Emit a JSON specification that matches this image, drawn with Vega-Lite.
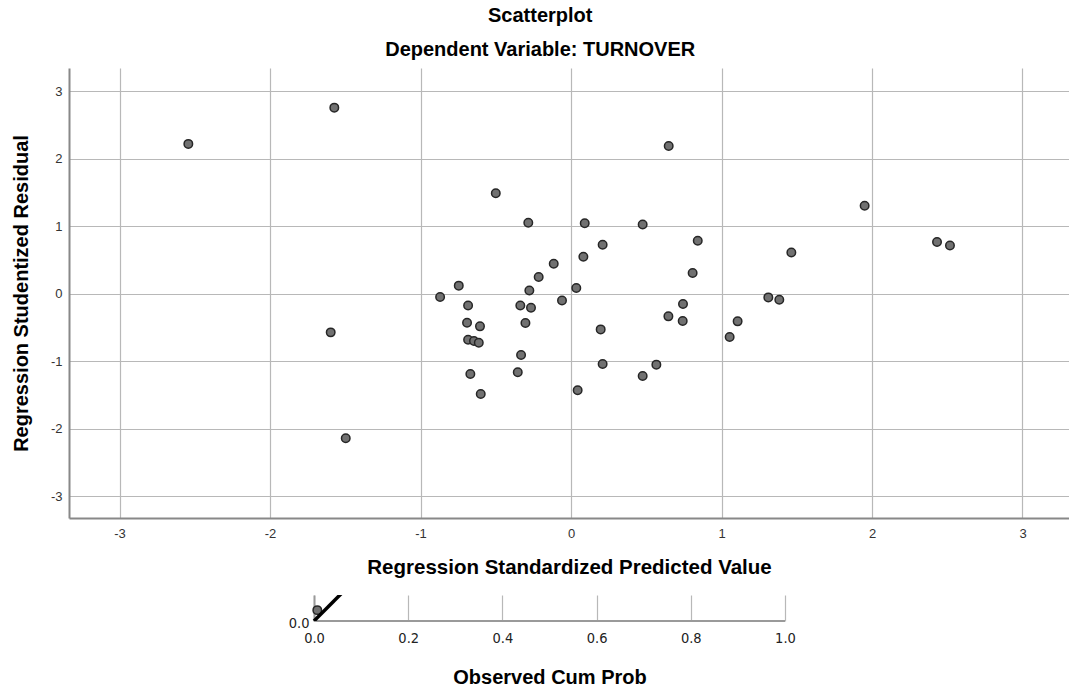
{
  "$schema": "https://vega.github.io/schema/vega-lite/v6.json",
  "padding": {"left": 11, "top": 6, "right": 0, "bottom": 0},
  "background": "white",
  "title": {
    "text": "Scatterplot",
    "subtitle": "Dependent Variable: TURNOVER",
    "anchor": "middle",
    "font": "Liberation Sans",
    "fontSize": 20,
    "fontWeight": "bold",
    "color": "black",
    "subtitleFont": "Liberation Sans",
    "subtitleFontSize": 20,
    "subtitleFontWeight": "bold",
    "subtitleColor": "black",
    "subtitlePadding": 14,
    "offset": 8
  },
  "spacing": 77,
  "bounds": "flush",
  "vconcat": [
    {
      "width": 1000,
      "height": 450,
      "data": {
        "values": [
          {"pred": -2.543, "resid": 2.219},
          {"pred": -1.573, "resid": 2.756},
          {"pred": -0.870, "resid": -0.049},
          {"pred": -0.746, "resid": 0.120},
          {"pred": 0.649, "resid": 2.189},
          {"pred": -0.500, "resid": 1.489},
          {"pred": -0.284, "resid": 1.050},
          {"pred": 0.091, "resid": 1.045},
          {"pred": 0.476, "resid": 1.026},
          {"pred": 0.842, "resid": 0.784},
          {"pred": 0.210, "resid": 0.725},
          {"pred": 1.464, "resid": 0.611},
          {"pred": 0.082, "resid": 0.547},
          {"pred": -0.115, "resid": 0.444},
          {"pred": 0.808, "resid": 0.306},
          {"pred": -0.215, "resid": 0.247},
          {"pred": 0.035, "resid": 0.086},
          {"pred": -0.277, "resid": 0.049},
          {"pred": -0.060, "resid": -0.100},
          {"pred": 1.311, "resid": -0.054},
          {"pred": 1.384, "resid": -0.089},
          {"pred": 1.951, "resid": 1.302},
          {"pred": 2.432, "resid": 0.765},
          {"pred": 2.518, "resid": 0.715},
          {"pred": -1.597, "resid": -0.572},
          {"pred": -1.497, "resid": -2.140},
          {"pred": -0.684, "resid": -0.173},
          {"pred": -0.337, "resid": -0.173},
          {"pred": -0.266, "resid": -0.207},
          {"pred": 0.744, "resid": -0.153},
          {"pred": 0.647, "resid": -0.335},
          {"pred": 0.742, "resid": -0.404},
          {"pred": 1.107, "resid": -0.409},
          {"pred": 1.054, "resid": -0.641},
          {"pred": -0.691, "resid": -0.429},
          {"pred": -0.605, "resid": -0.483},
          {"pred": -0.303, "resid": -0.434},
          {"pred": 0.197, "resid": -0.528},
          {"pred": -0.684, "resid": -0.680},
          {"pred": -0.645, "resid": -0.700},
          {"pred": -0.613, "resid": -0.725},
          {"pred": -0.332, "resid": -0.907},
          {"pred": 0.210, "resid": -1.040},
          {"pred": 0.567, "resid": -1.050},
          {"pred": -0.669, "resid": -1.188},
          {"pred": -0.354, "resid": -1.164},
          {"pred": 0.476, "resid": -1.218},
          {"pred": 0.044, "resid": -1.430},
          {"pred": -0.600, "resid": -1.484}
        ]
      },
      "mark": {"type": "circle", "fill": "#717171", "stroke": "#262626", "strokeWidth": 1.5, "size": 72, "opacity": 1},
      "encoding": {
        "x": {
          "field": "pred",
          "type": "quantitative",
          "scale": {"domain": [-3.336, 3.309], "nice": false, "zero": false},
          "axis": {
            "values": [-3, -2, -1, 0, 1, 2, 3],
            "labelExpr": "'' + datum.value",
            "title": "Regression Standardized Predicted Value",
            "titleFontSize": 20.5,
            "titlePadding": 17,
            "labelPadding": 9
          }
        },
        "y": {
          "field": "resid",
          "type": "quantitative",
          "scale": {"domain": [-3.321, 3.343], "nice": false, "zero": false},
          "axis": {
            "values": [-3, -2, -1, 0, 1, 2, 3],
            "labelExpr": "'' + datum.value",
            "title": "Regression Studentized Residual",
            "titlePadding": 19,
            "labelPadding": 7
          }
        }
      }
    },
    {
      "width": 1000,
      "height": 26,
      "layer": [
        {
          "data": {"values": [{"x": 0, "x2": 1, "y": 0}]},
          "mark": {"type": "rule", "color": "#9a9a9a", "strokeWidth": 2},
          "encoding": {
            "x": {"field": "x", "type": "quantitative"},
            "x2": {"field": "x2"},
            "y": {"field": "y", "type": "quantitative"}
          }
        },
        {
          "data": {"values": [{"x": 0.007, "y": 0.023}]},
          "mark": {"type": "circle", "fill": "#717171", "stroke": "#262626", "strokeWidth": 1.5, "size": 72, "opacity": 1, "clip": true},
          "encoding": {
            "x": {"field": "x", "type": "quantitative"},
            "y": {"field": "y", "type": "quantitative"}
          }
        },
        {
          "data": {"values": [{"x": 0, "y": 0}, {"x": 1, "y": 1}]},
          "mark": {"type": "line", "color": "black", "strokeWidth": 3.5, "clip": true},
          "encoding": {
            "x": {"field": "x", "type": "quantitative"},
            "y": {"field": "y", "type": "quantitative"}
          }
        }
      ],
      "encoding": {
        "x": {
          "field": "x",
          "type": "quantitative",
          "scale": {"domain": [-0.5202, 1.603], "nice": false, "zero": false},
          "axis": {
            "values": [0, 0.2, 0.4, 0.6, 0.8, 1.0],
            "format": ".1f",
            "domain": false,
            "grid": true,
            "title": "Observed Cum Prob",
            "titleFontSize": 20,
            "titleFontWeight": "bold",
            "titleX": 480.5,
            "titlePadding": 23,
            "labelFont": "DejaVu Sans Condensed, Liberation Sans, sans-serif",
            "labelFontSize": 14.5,
            "labelPadding": 10,
            "labelColor": "#222"
          }
        },
        "y": {
          "field": "y",
          "type": "quantitative",
          "scale": {"domain": [0, 0.055], "nice": false, "zero": false},
          "axis": {
            "values": [0],
            "format": ".1f",
            "offset": -245,
            "grid": false,
            "title": null,
            "domainColor": "#9a9a9a",
            "labelFont": "DejaVu Sans Condensed, Liberation Sans, sans-serif",
            "labelFontSize": 14.5,
            "labelPadding": 5,
            "labelBaseline": "middle",
            "labelOffset": 2,
            "labelColor": "#222"
          }
        }
      }
    }
  ],
  "config": {
    "view": {"stroke": null},
    "axis": {
      "gridColor": "#b8b8b8",
      "gridWidth": 1.2,
      "gridOpacity": 1,
      "domainColor": "#888888",
      "domainWidth": 2,
      "ticks": false,
      "labelFont": "Liberation Sans",
      "labelFontSize": 13,
      "labelColor": "#333333",
      "titleFont": "Liberation Sans",
      "titleFontSize": 20,
      "titleFontWeight": "bold",
      "titleColor": "black"
    }
  }
}
